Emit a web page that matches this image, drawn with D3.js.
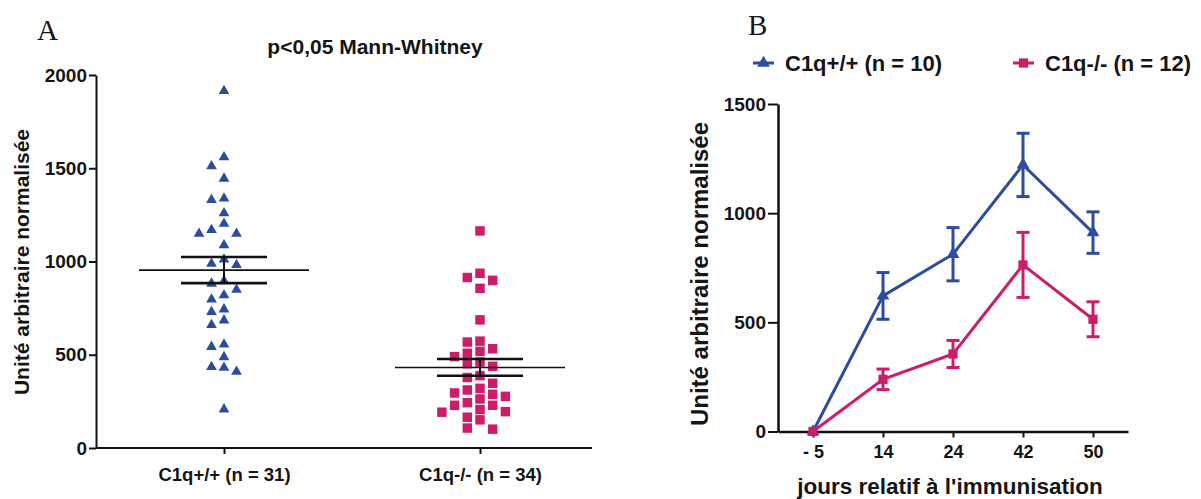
<!DOCTYPE html>
<html><head><meta charset="utf-8">
<script src="https://cdn.jsdelivr.net/npm/d3@7"></script>
<style>
html,body{margin:0;padding:0;background:#fff;}
svg{display:block;}
text{font-family:"Liberation Sans",Arial,sans-serif;font-weight:bold;fill:#151515;}
.panel{font-family:"Liberation Serif","Times New Roman",serif;font-weight:normal;}
</style></head>
<body>
<svg id="chart" width="1201" height="499"></svg>
<script>
// ---------- Panel A data ----------
const catsA = ["C1q+/+ (n = 31)", "C1q-/- (n = 34)"];
const wtValuesA = [1920,1565,1517,1450,1344,1335,1264,1208,1175,1155,1155,1093,1017,994,987,
  901,887,854,825,802,749,735,690,665,561,548,493,440,436,415,213];
const koValuesA = [1164,937,914,899,856,687,573,568,532,518,508,490,461,452,438,388,378,347,
  320,311,295,288,277,263,243,229,229,206,195,192,165,151,107,101];
const meanA = [954, 432];
const semA = [70, 45];
const ticksA = [0, 500, 1000, 1500, 2000];
const titleA = "p<0,05 Mann-Whitney";
const yLabel = "Unité arbitraire normalisée";

// ---------- Panel B data ----------
const daysB = ["- 5", "14", "24", "42", "50"];
const wtMeanB = [0, 621, 812, 1221, 911];
const wtSemB  = [0, 107, 122, 145, 95];
const koMeanB = [0, 239, 355, 763, 514];
const koSemB  = [0, 47, 62, 149, 80];
const ticksB = [0, 500, 1000, 1500];
const legendB = ["C1q+/+ (n = 10)", "C1q-/- (n = 12)"];
const xLabelB = "jours relatif à l'immunisation";

const BLUE = "#2c4c9f", PINK = "#cd1c6a";
const svg = d3.select("#chart");
const fmt = d3.format("d");

// ================= Panel A =================
const yA = d3.scaleLinear().domain([0, 2000]).range([448, 75]);
const xA = d3.scalePoint().domain(catsA).range([96, 608]).padding(0.5);
const axLeftA = 96, axRightA = 592;

svg.append("text").attr("class","panel").attr("x",37).attr("y",40)
  .style("font-size","29px").text("A");
svg.append("text").attr("x",375).attr("y",54).attr("text-anchor","middle")
  .style("font-size","21px").text(titleA);

const gyA = svg.append("g").attr("transform",`translate(${axLeftA},0)`)
  .call(d3.axisLeft(yA).tickValues(ticksA).tickFormat(fmt).tickSize(7).tickSizeOuter(0).tickPadding(2));
gyA.select(".domain").attr("stroke","#111").attr("stroke-width",2);
gyA.selectAll(".tick line").attr("stroke","#111").attr("stroke-width",2);
gyA.selectAll(".tick text").style("font-size","19px").attr("fill","#151515")
  .style("font-family","'Liberation Sans',Arial,sans-serif").style("font-weight","bold");

const gxA = svg.append("g").attr("transform","translate(0,448)")
  .call(d3.axisBottom(xA).tickSize(6).tickSizeOuter(0).tickPadding(14));
gxA.select(".domain").attr("d",`M${axLeftA},0H${axRightA}`).attr("stroke","#111").attr("stroke-width",2);
gxA.selectAll(".tick line").attr("stroke","#111").attr("stroke-width",2);
gxA.selectAll(".tick text").style("font-size","18.5px").attr("fill","#151515")
  .style("font-family","'Liberation Sans',Arial,sans-serif").style("font-weight","bold");

svg.append("text").attr("transform","translate(29,262) rotate(-90)")
  .attr("text-anchor","middle").style("font-size","21px").text(yLabel);

// beeswarm column layout
function swarm(values, cx, colStep, minGap) {
  const order = values.map((v,i)=>({v,i})).sort((a,b)=>b.v-a.v);
  const cols = new Map();
  const out = [];
  const cand = [0,-1,1,-2,2,-3,3,-4,4];
  order.forEach(({v})=>{
    const py = yA(v);
    for (const c of cand) {
      const arr = cols.get(c) || [];
      if (arr.every(q=>Math.abs(q-py) >= minGap)) {
        arr.push(py); cols.set(c, arr);
        out.push({x: cx + c*colStep, y: py});
        break;
      }
    }
  });
  return out;
}
const wtPts = swarm(wtValuesA, xA(catsA[0]), 12.5, 10);
const koPts = swarm(koValuesA, xA(catsA[1]), 12.7, 10);

svg.append("g").selectAll("path").data(wtPts).join("path")
  .attr("transform",d=>`translate(${d.x},${d.y+1})`)
  .attr("d", d3.symbol(d3.symbolTriangle, 50)()).attr("fill",BLUE);
svg.append("g").selectAll("path").data(koPts).join("path")
  .attr("transform",d=>`translate(${d.x},${d.y})`)
  .attr("d", d3.symbol(d3.symbolSquare, 90)()).attr("fill",PINK);

// mean +/- SEM
const gm = svg.append("g").attr("stroke","#111");
catsA.forEach((c,i)=>{
  const cx = xA(c);
  gm.append("line").attr("x1",cx-85).attr("x2",cx+85).attr("y1",yA(meanA[i])).attr("y2",yA(meanA[i])).attr("stroke-width",1.6);
  gm.append("line").attr("x1",cx).attr("x2",cx).attr("y1",yA(meanA[i]+semA[i])).attr("y2",yA(meanA[i]-semA[i])).attr("stroke-width",2);
  [meanA[i]+semA[i], meanA[i]-semA[i]].forEach(v=>{
    gm.append("line").attr("x1",cx-43).attr("x2",cx+43).attr("y1",yA(v)).attr("y2",yA(v)).attr("stroke-width",2.6);
  });
});

// ================= Panel B =================
const yB = d3.scaleLinear().domain([0, 1500]).range([431.5, 104]);
const xB = d3.scalePoint().domain(daysB).range([778, 1128]).padding(0.5);

svg.append("text").attr("class","panel").attr("x",748).attr("y",35)
  .style("font-size","29px").text("B");

const gyB = svg.append("g").attr("transform","translate(778,0)")
  .call(d3.axisLeft(yB).tickValues(ticksB).tickFormat(fmt).tickSize(10).tickSizeOuter(0).tickPadding(2));
gyB.select(".domain").attr("stroke","#111").attr("stroke-width",2.5);
gyB.selectAll(".tick line").attr("stroke","#111").attr("stroke-width",2);
gyB.selectAll(".tick text").style("font-size","19px").attr("fill","#151515")
  .style("font-family","'Liberation Sans',Arial,sans-serif").style("font-weight","bold");

const gxB = svg.append("g").attr("transform","translate(0,431.5)")
  .call(d3.axisBottom(xB).tickSize(6).tickSizeOuter(0).tickPadding(8));
gxB.select(".domain").attr("stroke","#111").attr("stroke-width",2.5);
gxB.selectAll(".tick line").attr("stroke","#111").attr("stroke-width",2);
gxB.selectAll(".tick text").style("font-size","18px").attr("fill","#151515")
  .style("font-family","'Liberation Sans',Arial,sans-serif").style("font-weight","bold");

svg.append("text").attr("transform","translate(708,274) rotate(-90)")
  .attr("text-anchor","middle").style("font-size","24px").text(yLabel);
svg.append("text").attr("x",950).attr("y",494).attr("text-anchor","middle")
  .style("font-size","22.5px").text(xLabelB);

const seriesB = [
  {mean: wtMeanB, sem: wtSemB, color: BLUE, sym: d3.symbolTriangle, size: 70},
  {mean: koMeanB, sem: koSemB, color: PINK, sym: d3.symbolSquare, size: 85}
];
const lineB = d3.line().x((d,i)=>xB(daysB[i])).y(d=>yB(d));
seriesB.forEach(s=>{
  const g = svg.append("g");
  g.append("path").datum(s.mean).attr("d",lineB).attr("fill","none")
    .attr("stroke",s.color).attr("stroke-width",3);
  s.mean.forEach((m,i)=>{
    if (s.sem[i] <= 0) return;
    const cx = xB(daysB[i]);
    g.append("line").attr("x1",cx).attr("x2",cx).attr("y1",yB(m+s.sem[i])).attr("y2",yB(m-s.sem[i]))
      .attr("stroke",s.color).attr("stroke-width",3);
    [m+s.sem[i], m-s.sem[i]].forEach(v=>{
      g.append("line").attr("x1",cx-6.5).attr("x2",cx+6.5).attr("y1",yB(v)).attr("y2",yB(v))
        .attr("stroke",s.color).attr("stroke-width",3);
    });
  });
  g.selectAll("path.m").data(s.mean).join("path").attr("class","m")
    .attr("transform",(d,i)=>`translate(${xB(daysB[i])},${yB(d)})`)
    .attr("d", d3.symbol(s.sym, s.size)()).attr("fill",s.color);
});

// legend
const legX = [753, 1013];
seriesB.forEach((s,i)=>{
  const g = svg.append("g").attr("transform",`translate(${legX[i]},63)`);
  g.append("line").attr("x1",0).attr("x2",21).attr("y1",0).attr("y2",0).attr("stroke",s.color).attr("stroke-width",3);
  g.append("path").attr("transform","translate(10.5,0)").attr("d", d3.symbol(s.sym, s.size)()).attr("fill",s.color);
  g.append("text").attr("x",32).attr("y",8).style("font-size","22px").text(legendB[i]);
});
</script>
</body></html>
